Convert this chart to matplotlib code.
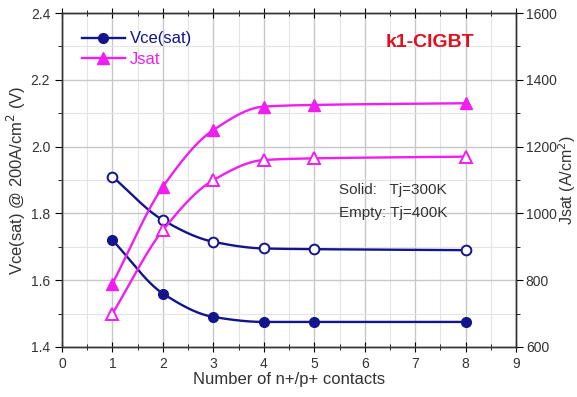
import numpy as np
import matplotlib
matplotlib.use("Agg")
from matplotlib import pyplot as plt
from matplotlib.ticker import MultipleLocator

plt.rcParams['font.family'] = ['Liberation Sans', 'DejaVu Sans']

# data
contacts = [1, 2, 3, 4, 5, 8]
vce_300k = [1.72, 1.56, 1.49, 1.475, 1.475, 1.475]
vce_400k = [1.91, 1.78, 1.715, 1.695, 1.693, 1.69]
jsat_300k = [790, 1080, 1250, 1320, 1325, 1330]
jsat_400k = [700, 950, 1100, 1160, 1165, 1170]

NAVY = '#14148c'
MAG = '#f01ef0'


def pchip(x, y, xs):
    # monotone cubic through the points (like the smooth curve in the original)
    x = np.asarray(x, float)
    y = np.asarray(y, float)
    h = np.diff(x)
    d = np.diff(y) / h
    n = len(x)
    m = np.zeros(n)
    for k in range(1, n - 1):
        if d[k - 1] * d[k] > 0:
            w1 = 2 * h[k] + h[k - 1]
            w2 = h[k] + 2 * h[k - 1]
            m[k] = (w1 + w2) / (w1 / d[k - 1] + w2 / d[k])
    m[0] = d[0]
    m[-1] = d[-1] if d[-1] * d[-2] > 0 else 0
    idx = np.clip(np.searchsorted(x, xs) - 1, 0, n - 2)
    t = (xs - x[idx]) / h[idx]
    h00 = 2 * t**3 - 3 * t**2 + 1
    h10 = t**3 - 2 * t**2 + t
    h01 = -2 * t**3 + 3 * t**2
    h11 = t**3 - t**2
    return h00 * y[idx] + h10 * h[idx] * m[idx] + h01 * y[idx + 1] + h11 * h[idx] * m[idx + 1]


xs = np.linspace(1, 8, 300)

fig = plt.figure(figsize=(5.77, 3.97), dpi=100)
ax = fig.add_axes([0.1075, 0.126, 0.787, 0.841])
ax2 = ax.twinx()

ax.set_xlim(0, 9)
ax.set_ylim(1.4, 2.4)
ax2.set_ylim(600, 1600)

ax.xaxis.set_major_locator(MultipleLocator(1))
ax.xaxis.set_minor_locator(MultipleLocator(0.5))
ax.yaxis.set_major_locator(MultipleLocator(0.2))
ax.yaxis.set_minor_locator(MultipleLocator(0.1))
ax2.yaxis.set_major_locator(MultipleLocator(200))
ax2.yaxis.set_minor_locator(MultipleLocator(100))

ax.grid(which='major', color='#c8c8c8', lw=1.0)
ax.grid(which='minor', color='#e4e4e4', lw=0.8)
ax.set_axisbelow(True)

# Vce(sat) on left axis
ax.plot(xs, pchip(contacts, vce_300k, xs), color=NAVY, lw=1.7)
ax.plot(contacts, vce_300k, 'o', color=NAVY, ms=7)
ax.plot(xs, pchip(contacts, vce_400k, xs), color=NAVY, lw=1.7)
ax.plot(contacts, vce_400k, 'o', color=NAVY, mfc='white', mew=1.4, ms=7)

# Jsat on right axis
ax2.plot(xs, pchip(contacts, jsat_300k, xs), color=MAG, lw=1.7)
ax2.plot(contacts, jsat_300k, '^', color=MAG, ms=8)
ax2.plot(xs, pchip(contacts, jsat_400k, xs), color=MAG, lw=1.7)
ax2.plot(contacts, jsat_400k, '^', color=MAG, mfc='white', mew=1.4, ms=8)

# legend handles
h1, = ax.plot([], [], '-o', color=NAVY, lw=1.7, ms=7)
h2, = ax.plot([], [], '-^', color=MAG, lw=1.7, ms=8)
leg = ax.legend([h1, h2], ['Vce(sat)', 'Jsat'], loc='upper left', bbox_to_anchor=(0.01, 0.99),
                frameon=False, fontsize=12, handlelength=2.6, handletextpad=0.3, labelspacing=0.35)
for txt, c in zip(leg.get_texts(), [NAVY, MAG]):
    txt.set_color(c)

ax.text(0.81, 0.913, 'k1-CIGBT', transform=ax.transAxes, ha='center', va='center',
        color='#e0101e', fontsize=14, fontweight='bold')
ax.text(0.61, 0.47, 'Solid:   Tj=300K', transform=ax.transAxes, ha='left', va='center',
        color='#333333', fontsize=11)
ax.text(0.61, 0.40, 'Empty: Tj=400K', transform=ax.transAxes, ha='left', va='center',
        color='#333333', fontsize=11)

ax.set_xlabel('Number of n+/p+ contacts', fontsize=12, color='#333333', labelpad=1)
ax.set_ylabel('Vce(sat) @ 200A/cm$^2$ (V)', fontsize=12, color='#333333', labelpad=2)
ax2.set_ylabel('Jsat (A/cm$^2$)', fontsize=11.5, color='#333333', labelpad=0, rotation=90, va='top')
ax2.yaxis.set_label_coords(1.0 + 40 / 454, 0.5)

ax.tick_params(axis='x', which='both', direction='inout', top=True, labelcolor='#333333', labelsize=10)
ax.tick_params(axis='x', which='major', length=7)
ax.tick_params(axis='x', which='minor', length=4)
ax.tick_params(axis='y', which='both', direction='out', labelcolor='#333333', labelsize=10)
ax.tick_params(axis='y', which='major', length=5)
ax.tick_params(axis='y', which='minor', length=3)
ax2.tick_params(axis='y', which='both', direction='out', labelcolor='#333333', labelsize=10, pad=2)
ax2.tick_params(axis='y', which='major', length=5)
ax2.tick_params(axis='y', which='minor', length=3)

for a in (ax, ax2):
    for s in a.spines.values():
        s.set_color('#333333')
        s.set_linewidth(1.0)

fig.savefig('out.png', dpi=100)
